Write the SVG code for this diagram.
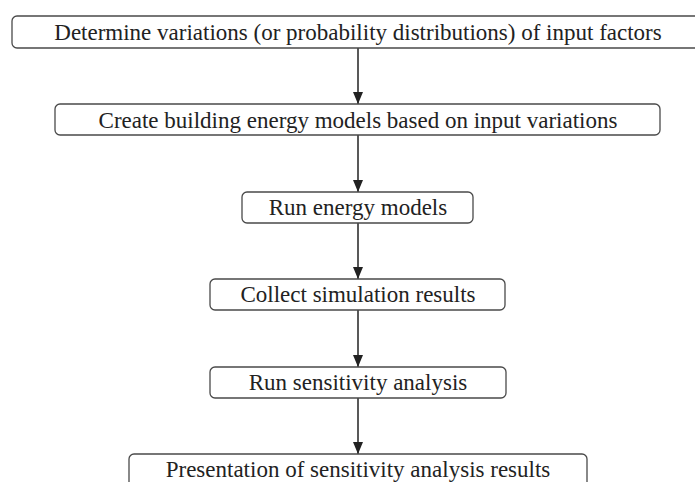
<svg xmlns="http://www.w3.org/2000/svg" width="695" height="482" viewBox="0 0 695 482">
<style>
.box{fill:#fff;stroke:#4a4a4a;stroke-width:1.3}
.lbl{font-family:"Liberation Serif","Times New Roman",serif;font-size:23px;fill:#222;text-anchor:middle}
.conn{stroke:#222;stroke-width:1.5;fill:none;marker-end:url(#arr)}
</style>
<defs>
<marker id="arr" markerUnits="userSpaceOnUse" markerWidth="12" markerHeight="12" viewBox="0 0 12 12" refX="12" refY="6" orient="auto">
<path d="M0,1 L12,6 L0,11 Z" fill="#222"/>
</marker>
</defs>
<rect width="695" height="482" fill="#fff"/>
<g id="connectors">
<line class="conn" x1="358" y1="48" x2="358" y2="104"/>
<line class="conn" x1="358" y1="135" x2="358" y2="192"/>
<line class="conn" x1="358" y1="223" x2="358" y2="279"/>
<line class="conn" x1="358" y1="310" x2="358" y2="367"/>
<line class="conn" x1="358" y1="398" x2="358" y2="454"/>
</g>
<g id="n1"><rect class="box" x="12" y="16" width="700" height="32" rx="5"/><text class="lbl" x="358" y="39.5">Determine variations (or probability distributions) of input factors</text></g>
<g id="n2"><rect class="box" x="55" y="104" width="605" height="31" rx="5"/><text class="lbl" x="358" y="127.5">Create building energy models based on input variations</text></g>
<g id="n3"><rect class="box" x="242" y="192" width="231" height="31" rx="5"/><text class="lbl" x="358" y="214.5">Run energy models</text></g>
<g id="n4"><rect class="box" x="210" y="279" width="295" height="31" rx="5"/><text class="lbl" x="358" y="302">Collect simulation results</text></g>
<g id="n5"><rect class="box" x="210" y="367" width="296" height="31" rx="5"/><text class="lbl" x="358" y="390">Run sensitivity analysis</text></g>
<g id="n6"><rect class="box" x="129" y="454" width="458" height="40" rx="5"/><text class="lbl" x="358" y="477">Presentation of sensitivity analysis results</text></g>
</svg>
